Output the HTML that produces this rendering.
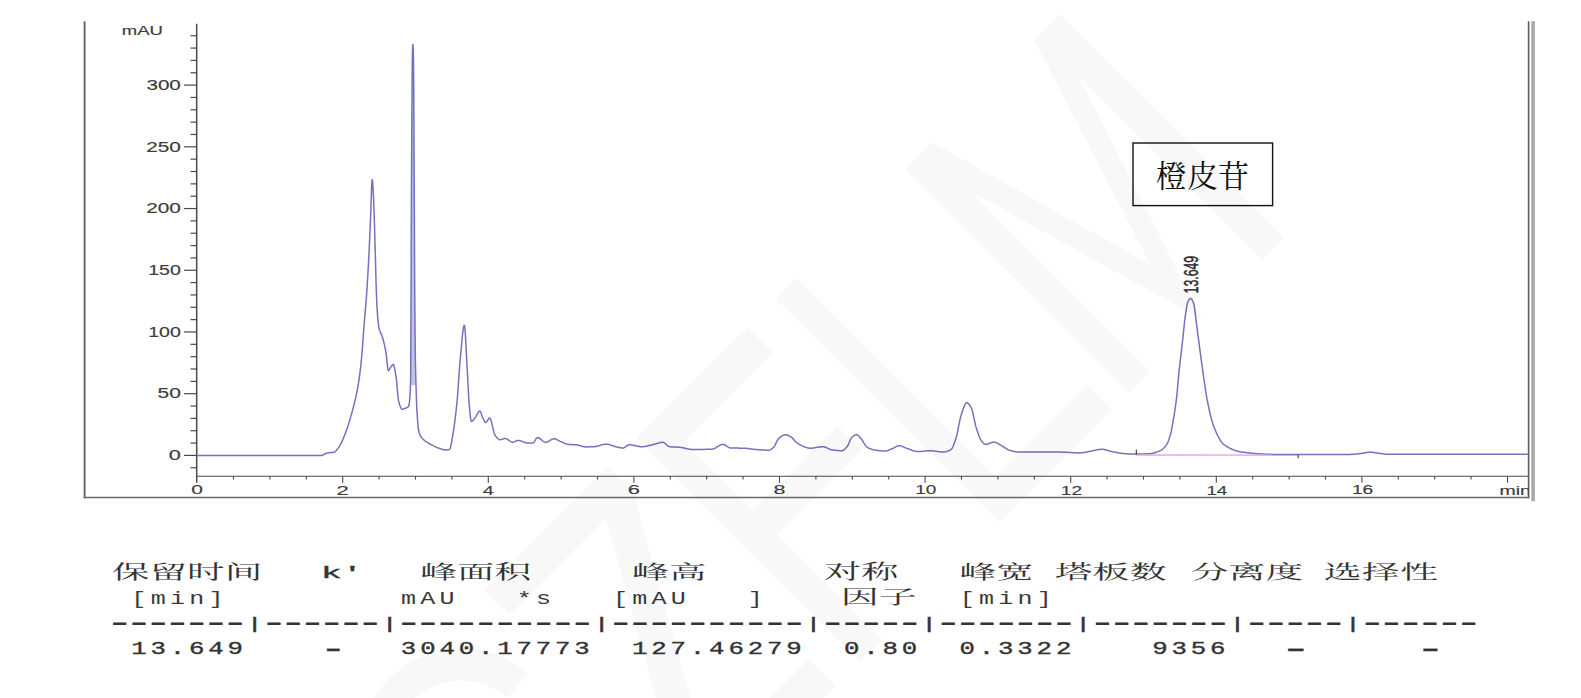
<!DOCTYPE html>
<html><head><meta charset="utf-8"><title>Chromatogram</title>
<style>html,body{margin:0;padding:0;background:#fff;} body{width:1581px;height:698px;overflow:hidden;} svg{display:block;} text{white-space:pre;}</style>
</head><body>
<svg width="1581" height="698" viewBox="0 0 1581 698">
<rect width="1581" height="698" fill="#fff"/>
<defs><clipPath id="plot"><rect x="85" y="0" width="1443.5" height="498"/></clipPath></defs>
<g><line x1="84.6" y1="21.3" x2="84.6" y2="498.2" stroke="#5e5e5e" stroke-width="1.8"/><line x1="83.7" y1="497.5" x2="1529.2" y2="497.5" stroke="#6a6a6a" stroke-width="1.5"/><line x1="1528.6" y1="21.3" x2="1528.6" y2="498.3" stroke="#5e5e5e" stroke-width="1.6"/><rect x="1531.3" y="21.2" width="3.6" height="480" fill="#a8a8a8"/><line x1="196.7" y1="23.8" x2="196.7" y2="482.8" stroke="#4a4a4a" stroke-width="1.5"/><line x1="196.2" y1="476.2" x2="1528.5" y2="476.2" stroke="#4a4a4a" stroke-width="1.1"/><line x1="190.5" y1="467.743" x2="196.8" y2="467.743" stroke="#4a4a4a" stroke-width="1.2"/><line x1="184" y1="455.4" x2="196.8" y2="455.4" stroke="#4a4a4a" stroke-width="1.2"/><line x1="190.5" y1="443.057" x2="196.8" y2="443.057" stroke="#4a4a4a" stroke-width="1.2"/><line x1="190.5" y1="430.714" x2="196.8" y2="430.714" stroke="#4a4a4a" stroke-width="1.2"/><line x1="190.5" y1="418.371" x2="196.8" y2="418.371" stroke="#4a4a4a" stroke-width="1.2"/><line x1="190.5" y1="406.028" x2="196.8" y2="406.028" stroke="#4a4a4a" stroke-width="1.2"/><line x1="184" y1="393.685" x2="196.8" y2="393.685" stroke="#4a4a4a" stroke-width="1.2"/><line x1="190.5" y1="381.342" x2="196.8" y2="381.342" stroke="#4a4a4a" stroke-width="1.2"/><line x1="190.5" y1="368.999" x2="196.8" y2="368.999" stroke="#4a4a4a" stroke-width="1.2"/><line x1="190.5" y1="356.656" x2="196.8" y2="356.656" stroke="#4a4a4a" stroke-width="1.2"/><line x1="190.5" y1="344.313" x2="196.8" y2="344.313" stroke="#4a4a4a" stroke-width="1.2"/><line x1="184" y1="331.97" x2="196.8" y2="331.97" stroke="#4a4a4a" stroke-width="1.2"/><line x1="190.5" y1="319.627" x2="196.8" y2="319.627" stroke="#4a4a4a" stroke-width="1.2"/><line x1="190.5" y1="307.284" x2="196.8" y2="307.284" stroke="#4a4a4a" stroke-width="1.2"/><line x1="190.5" y1="294.941" x2="196.8" y2="294.941" stroke="#4a4a4a" stroke-width="1.2"/><line x1="190.5" y1="282.598" x2="196.8" y2="282.598" stroke="#4a4a4a" stroke-width="1.2"/><line x1="184" y1="270.255" x2="196.8" y2="270.255" stroke="#4a4a4a" stroke-width="1.2"/><line x1="190.5" y1="257.912" x2="196.8" y2="257.912" stroke="#4a4a4a" stroke-width="1.2"/><line x1="190.5" y1="245.569" x2="196.8" y2="245.569" stroke="#4a4a4a" stroke-width="1.2"/><line x1="190.5" y1="233.226" x2="196.8" y2="233.226" stroke="#4a4a4a" stroke-width="1.2"/><line x1="190.5" y1="220.883" x2="196.8" y2="220.883" stroke="#4a4a4a" stroke-width="1.2"/><line x1="184" y1="208.54" x2="196.8" y2="208.54" stroke="#4a4a4a" stroke-width="1.2"/><line x1="190.5" y1="196.197" x2="196.8" y2="196.197" stroke="#4a4a4a" stroke-width="1.2"/><line x1="190.5" y1="183.854" x2="196.8" y2="183.854" stroke="#4a4a4a" stroke-width="1.2"/><line x1="190.5" y1="171.511" x2="196.8" y2="171.511" stroke="#4a4a4a" stroke-width="1.2"/><line x1="190.5" y1="159.168" x2="196.8" y2="159.168" stroke="#4a4a4a" stroke-width="1.2"/><line x1="184" y1="146.825" x2="196.8" y2="146.825" stroke="#4a4a4a" stroke-width="1.2"/><line x1="190.5" y1="134.482" x2="196.8" y2="134.482" stroke="#4a4a4a" stroke-width="1.2"/><line x1="190.5" y1="122.139" x2="196.8" y2="122.139" stroke="#4a4a4a" stroke-width="1.2"/><line x1="190.5" y1="109.796" x2="196.8" y2="109.796" stroke="#4a4a4a" stroke-width="1.2"/><line x1="190.5" y1="97.453" x2="196.8" y2="97.453" stroke="#4a4a4a" stroke-width="1.2"/><line x1="184" y1="85.11" x2="196.8" y2="85.11" stroke="#4a4a4a" stroke-width="1.2"/><line x1="190.5" y1="72.767" x2="196.8" y2="72.767" stroke="#4a4a4a" stroke-width="1.2"/><line x1="190.5" y1="60.424" x2="196.8" y2="60.424" stroke="#4a4a4a" stroke-width="1.2"/><line x1="190.5" y1="48.081" x2="196.8" y2="48.081" stroke="#4a4a4a" stroke-width="1.2"/><line x1="190.5" y1="35.738" x2="196.8" y2="35.738" stroke="#4a4a4a" stroke-width="1.2"/><line x1="233.5" y1="476.2" x2="233.5" y2="479.6" stroke="#4a4a4a" stroke-width="1.1"/><line x1="269.9" y1="476.2" x2="269.9" y2="479.6" stroke="#4a4a4a" stroke-width="1.1"/><line x1="306.3" y1="476.2" x2="306.3" y2="479.6" stroke="#4a4a4a" stroke-width="1.1"/><line x1="342.7" y1="476.2" x2="342.7" y2="482.8" stroke="#4a4a4a" stroke-width="1.1"/><line x1="379.1" y1="476.2" x2="379.1" y2="479.6" stroke="#4a4a4a" stroke-width="1.1"/><line x1="415.5" y1="476.2" x2="415.5" y2="479.6" stroke="#4a4a4a" stroke-width="1.1"/><line x1="451.9" y1="476.2" x2="451.9" y2="479.6" stroke="#4a4a4a" stroke-width="1.1"/><line x1="488.3" y1="476.2" x2="488.3" y2="482.8" stroke="#4a4a4a" stroke-width="1.1"/><line x1="524.7" y1="476.2" x2="524.7" y2="479.6" stroke="#4a4a4a" stroke-width="1.1"/><line x1="561.1" y1="476.2" x2="561.1" y2="479.6" stroke="#4a4a4a" stroke-width="1.1"/><line x1="597.5" y1="476.2" x2="597.5" y2="479.6" stroke="#4a4a4a" stroke-width="1.1"/><line x1="633.9" y1="476.2" x2="633.9" y2="482.8" stroke="#4a4a4a" stroke-width="1.1"/><line x1="670.3" y1="476.2" x2="670.3" y2="479.6" stroke="#4a4a4a" stroke-width="1.1"/><line x1="706.7" y1="476.2" x2="706.7" y2="479.6" stroke="#4a4a4a" stroke-width="1.1"/><line x1="743.1" y1="476.2" x2="743.1" y2="479.6" stroke="#4a4a4a" stroke-width="1.1"/><line x1="779.5" y1="476.2" x2="779.5" y2="482.8" stroke="#4a4a4a" stroke-width="1.1"/><line x1="815.9" y1="476.2" x2="815.9" y2="479.6" stroke="#4a4a4a" stroke-width="1.1"/><line x1="852.3" y1="476.2" x2="852.3" y2="479.6" stroke="#4a4a4a" stroke-width="1.1"/><line x1="888.7" y1="476.2" x2="888.7" y2="479.6" stroke="#4a4a4a" stroke-width="1.1"/><line x1="925.1" y1="476.2" x2="925.1" y2="482.8" stroke="#4a4a4a" stroke-width="1.1"/><line x1="961.5" y1="476.2" x2="961.5" y2="479.6" stroke="#4a4a4a" stroke-width="1.1"/><line x1="997.9" y1="476.2" x2="997.9" y2="479.6" stroke="#4a4a4a" stroke-width="1.1"/><line x1="1034.3" y1="476.2" x2="1034.3" y2="479.6" stroke="#4a4a4a" stroke-width="1.1"/><line x1="1070.7" y1="476.2" x2="1070.7" y2="482.8" stroke="#4a4a4a" stroke-width="1.1"/><line x1="1107.1" y1="476.2" x2="1107.1" y2="479.6" stroke="#4a4a4a" stroke-width="1.1"/><line x1="1143.5" y1="476.2" x2="1143.5" y2="479.6" stroke="#4a4a4a" stroke-width="1.1"/><line x1="1179.9" y1="476.2" x2="1179.9" y2="479.6" stroke="#4a4a4a" stroke-width="1.1"/><line x1="1216.3" y1="476.2" x2="1216.3" y2="482.8" stroke="#4a4a4a" stroke-width="1.1"/><line x1="1252.7" y1="476.2" x2="1252.7" y2="479.6" stroke="#4a4a4a" stroke-width="1.1"/><line x1="1289.1" y1="476.2" x2="1289.1" y2="479.6" stroke="#4a4a4a" stroke-width="1.1"/><line x1="1325.5" y1="476.2" x2="1325.5" y2="479.6" stroke="#4a4a4a" stroke-width="1.1"/><line x1="1361.9" y1="476.2" x2="1361.9" y2="482.8" stroke="#4a4a4a" stroke-width="1.1"/><line x1="1398.3" y1="476.2" x2="1398.3" y2="479.6" stroke="#4a4a4a" stroke-width="1.1"/><line x1="1434.7" y1="476.2" x2="1434.7" y2="479.6" stroke="#4a4a4a" stroke-width="1.1"/><line x1="1471.1" y1="476.2" x2="1471.1" y2="479.6" stroke="#4a4a4a" stroke-width="1.1"/><line x1="1507.5" y1="476.2" x2="1507.5" y2="482.8" stroke="#4a4a4a" stroke-width="1.1"/></g>
<polygon points="412.3,60 413.5,60 414.3,200 414.8,300 415.4,360 415.8,385 410.7,385 411.0,300 411.4,200" fill="#c4c2ec"/>
<path d="M197.00,455.50 197.50,455.50 198.00,455.50 198.50,455.50 199.00,455.50 199.50,455.50 200.00,455.50 200.50,455.50 201.00,455.50 201.50,455.50 202.00,455.50 202.50,455.50 203.00,455.50 203.50,455.50 204.00,455.50 204.50,455.50 205.00,455.50 205.50,455.50 206.00,455.50 206.50,455.50 207.00,455.50 207.50,455.50 208.00,455.50 208.50,455.50 209.00,455.50 209.50,455.50 210.00,455.50 210.50,455.50 211.00,455.50 211.50,455.50 212.00,455.50 212.50,455.50 213.00,455.50 213.50,455.50 214.00,455.50 214.50,455.50 215.00,455.50 215.50,455.50 216.00,455.50 216.50,455.50 217.00,455.50 217.50,455.50 218.00,455.50 218.50,455.50 219.00,455.50 219.50,455.50 220.00,455.50 220.50,455.50 221.00,455.50 221.50,455.50 222.00,455.50 222.50,455.50 223.00,455.50 223.50,455.50 224.00,455.50 224.50,455.50 225.00,455.50 225.50,455.50 226.00,455.50 226.50,455.50 227.00,455.50 227.50,455.50 228.00,455.50 228.50,455.50 229.00,455.50 229.50,455.50 230.00,455.50 230.50,455.50 231.00,455.50 231.50,455.50 232.00,455.50 232.50,455.50 233.00,455.50 233.50,455.50 234.00,455.50 234.50,455.50 235.00,455.50 235.50,455.50 236.00,455.50 236.50,455.50 237.00,455.50 237.50,455.50 238.00,455.50 238.50,455.50 239.00,455.50 239.50,455.50 240.00,455.50 240.50,455.50 241.00,455.50 241.50,455.50 242.00,455.50 242.50,455.50 243.00,455.50 243.50,455.50 244.00,455.50 244.50,455.50 245.00,455.50 245.50,455.50 246.00,455.50 246.50,455.50 247.00,455.50 247.50,455.50 248.00,455.50 248.50,455.50 249.00,455.50 249.50,455.50 250.00,455.50 250.50,455.50 251.00,455.50 251.50,455.50 252.00,455.50 252.50,455.50 253.00,455.50 253.50,455.50 254.00,455.50 254.50,455.50 255.00,455.50 255.50,455.50 256.00,455.50 256.50,455.50 257.00,455.50 257.50,455.50 258.00,455.50 258.50,455.50 259.00,455.50 259.50,455.50 260.00,455.50 260.50,455.50 261.00,455.50 261.50,455.50 262.00,455.50 262.50,455.50 263.00,455.50 263.50,455.50 264.00,455.50 264.50,455.50 265.00,455.50 265.50,455.50 266.00,455.50 266.50,455.50 267.00,455.50 267.50,455.50 268.00,455.50 268.50,455.50 269.00,455.50 269.50,455.50 270.00,455.50 270.50,455.50 271.00,455.50 271.50,455.50 272.00,455.50 272.50,455.50 273.00,455.50 273.50,455.50 274.00,455.50 274.50,455.50 275.00,455.50 275.50,455.50 276.00,455.50 276.50,455.50 277.00,455.50 277.50,455.50 278.00,455.50 278.50,455.50 279.00,455.50 279.50,455.50 280.00,455.50 280.50,455.50 281.00,455.50 281.50,455.50 282.00,455.50 282.50,455.50 283.00,455.50 283.50,455.50 284.00,455.50 284.50,455.50 285.00,455.50 285.50,455.50 286.00,455.50 286.50,455.50 287.00,455.50 287.50,455.50 288.00,455.50 288.50,455.50 289.00,455.50 289.50,455.50 290.00,455.50 290.50,455.50 291.00,455.50 291.50,455.50 292.00,455.50 292.50,455.50 293.00,455.50 293.50,455.50 294.00,455.50 294.50,455.50 295.00,455.50 295.50,455.50 296.00,455.50 296.50,455.50 297.00,455.50 297.50,455.50 298.00,455.50 298.50,455.50 299.00,455.50 299.50,455.50 300.00,455.50 300.50,455.50 301.00,455.50 301.50,455.50 302.00,455.50 302.50,455.50 303.00,455.50 303.50,455.50 304.00,455.50 304.50,455.50 305.00,455.50 305.50,455.50 306.00,455.50 306.50,455.50 307.00,455.50 307.50,455.50 308.00,455.50 308.50,455.50 309.00,455.50 309.50,455.50 310.00,455.50 310.50,455.50 311.00,455.50 311.50,455.50 312.00,455.50 312.50,455.50 313.00,455.50 313.50,455.50 314.00,455.50 314.50,455.50 315.00,455.50 315.50,455.50 316.00,455.50 316.50,455.50 317.00,455.50 317.50,455.50 318.00,455.50 318.50,455.50 319.00,455.50 319.50,455.50 320.00,455.50 320.50,455.50 321.00,455.50 321.50,455.50 322.00,455.43 322.50,455.24 323.00,454.97 323.50,454.65 324.00,454.33 324.50,454.03 325.00,453.80 325.50,453.62 326.00,453.44 326.50,453.28 327.00,453.13 327.50,453.00 328.00,452.90 328.50,452.82 329.00,452.76 329.50,452.70 330.00,452.66 330.50,452.62 331.00,452.58 331.50,452.54 332.00,452.50 332.50,452.45 333.00,452.38 333.50,452.30 334.00,452.20 334.50,452.01 335.00,451.69 335.50,451.26 336.00,450.75 336.50,450.19 337.00,449.59 337.50,449.00 338.00,448.38 338.50,447.68 339.00,446.92 339.50,446.10 340.00,445.23 340.50,444.32 341.00,443.37 341.50,442.40 342.00,441.39 342.50,440.32 343.00,439.19 343.50,438.02 344.00,436.80 344.50,435.54 345.00,434.24 345.50,432.91 346.00,431.54 346.50,430.15 347.00,428.74 347.50,427.30 347.98,425.89 348.46,424.42 348.93,422.90 349.41,421.33 349.89,419.72 350.37,418.08 350.84,416.41 351.32,414.71 351.80,413.00 352.26,411.33 352.73,409.65 353.19,407.94 353.65,406.19 354.11,404.40 354.57,402.54 355.04,400.61 355.50,398.60 355.90,396.80 356.30,394.93 356.70,393.00 357.10,390.98 357.50,388.86 357.90,386.64 358.30,384.30 358.59,382.54 358.87,380.69 359.16,378.74 359.44,376.71 359.73,374.57 360.01,372.34 360.30,370.00 360.50,368.29 360.70,366.49 360.90,364.63 361.10,362.68 361.30,360.67 361.50,358.60 361.70,356.46 361.90,354.26 362.10,352.00 362.26,350.15 362.41,348.21 362.57,346.18 362.73,344.08 362.89,341.93 363.04,339.73 363.20,337.51 363.36,335.28 363.51,333.04 363.67,330.83 363.83,328.64 363.99,326.50 364.14,324.41 364.30,322.40 364.47,320.28 364.65,318.24 364.82,316.26 364.99,314.32 365.16,312.39 365.34,310.46 365.51,308.50 365.68,306.50 365.85,304.43 366.03,302.27 366.20,300.00 366.33,298.24 366.46,296.43 366.59,294.59 366.72,292.72 366.85,290.80 366.98,288.85 367.11,286.87 367.24,284.84 367.36,282.78 367.49,280.69 367.62,278.55 367.75,276.38 367.88,274.18 368.01,271.94 368.14,269.66 368.27,267.35 368.40,265.00 368.50,263.23 368.59,261.42 368.69,259.58 368.78,257.69 368.88,255.77 368.97,253.81 369.07,251.83 369.16,249.82 369.26,247.78 369.35,245.72 369.45,243.63 369.55,241.53 369.64,239.42 369.74,237.28 369.83,235.14 369.93,232.99 370.02,230.83 370.12,228.66 370.21,226.49 370.31,224.33 370.40,222.16 370.50,220.00 370.58,217.97 370.67,215.75 370.75,213.38 370.84,210.87 370.93,208.27 371.01,205.60 371.09,202.91 371.18,200.21 371.26,197.55 371.35,194.95 371.44,192.44 371.52,190.07 371.61,187.85 371.69,185.83 371.77,184.03 371.86,182.48 371.94,181.23 372.03,180.29 372.12,179.70 372.20,179.50 372.37,179.99 372.54,181.34 372.71,183.37 372.89,185.93 373.06,188.83 373.23,191.91 373.40,195.00 373.47,196.23 373.53,197.58 373.60,199.02 373.67,200.56 373.73,202.19 373.80,203.91 373.87,205.70 373.93,207.57 374.00,209.51 374.07,211.52 374.13,213.58 374.20,215.70 374.27,217.86 374.33,220.06 374.40,222.30 374.47,224.57 374.53,226.87 374.60,229.18 374.67,231.51 374.73,233.85 374.80,236.19 374.87,238.53 374.93,240.86 375.00,243.18 375.07,245.48 375.13,247.75 375.20,250.00 375.25,251.88 375.31,253.83 375.37,255.84 375.42,257.91 375.48,260.01 375.53,262.15 375.58,264.31 375.64,266.49 375.69,268.66 375.75,270.84 375.81,272.99 375.86,275.12 375.92,277.21 375.97,279.25 376.02,281.24 376.08,283.16 376.13,285.01 376.19,286.77 376.25,288.44 376.30,290.00 376.39,292.44 376.48,294.81 376.57,297.11 376.66,299.32 376.75,301.43 376.84,303.43 376.93,305.30 377.02,307.02 377.11,308.60 377.20,310.00 377.41,313.02 377.62,315.86 377.84,318.49 378.05,320.88 378.26,323.00 378.47,324.83 378.69,326.34 378.90,327.50 379.40,329.51 379.90,331.05 380.40,332.27 380.90,333.32 381.40,334.36 381.90,335.53 382.40,337.00 382.89,338.67 383.37,340.46 383.86,342.38 384.34,344.44 384.83,346.66 385.31,349.04 385.80,351.60 386.09,353.49 386.38,355.89 386.67,358.60 386.96,361.43 387.24,364.18 387.53,366.65 387.82,368.66 388.11,370.01 388.40,370.50 388.84,370.27 389.28,369.70 389.72,368.95 390.16,368.16 390.60,367.50 391.05,366.89 391.50,366.23 391.95,365.59 392.40,365.03 392.85,364.65 393.30,364.50 393.77,365.05 394.23,366.56 394.70,368.79 395.17,371.49 395.63,374.44 396.10,377.40 396.32,378.94 396.53,380.82 396.75,382.97 396.97,385.31 397.18,387.76 397.40,390.24 397.62,392.68 397.83,395.00 398.05,397.12 398.27,398.96 398.48,400.45 398.70,401.50 399.19,403.26 399.67,404.88 400.16,406.31 400.64,407.50 401.13,408.42 401.61,409.00 402.10,409.20 402.59,409.17 403.07,409.08 403.56,408.95 404.04,408.79 404.53,408.60 405.01,408.40 405.50,408.20 405.99,408.01 406.47,407.83 406.96,407.61 407.44,407.34 407.93,406.97 408.41,406.46 408.90,405.80 409.15,404.75 409.40,402.58 409.65,399.66 409.90,396.30 409.99,395.10 410.07,393.87 410.16,392.49 410.25,390.87 410.34,388.92 410.43,386.52 410.51,383.58 410.60,380.00 410.61,379.48 410.62,378.82 410.63,378.03 410.64,377.10 410.65,376.06 410.66,374.89 410.67,373.61 410.68,372.22 410.69,370.73 410.70,369.14 410.71,367.45 410.72,365.68 410.73,363.82 410.74,361.88 410.75,359.87 410.76,357.78 410.77,355.64 410.78,353.43 410.79,351.17 410.80,348.86 410.81,346.51 410.82,344.12 410.83,341.69 410.84,339.23 410.85,336.75 410.86,334.25 410.87,331.74 410.88,329.21 410.89,326.69 410.90,324.16 410.91,321.63 410.92,319.12 410.93,316.63 410.94,314.15 410.95,311.70 410.96,309.28 410.97,306.89 410.98,304.55 410.99,302.25 411.00,300.00 411.01,298.21 411.02,296.38 411.02,294.53 411.03,292.64 411.04,290.73 411.05,288.79 411.06,286.83 411.06,284.85 411.07,282.84 411.08,280.82 411.09,278.77 411.10,276.71 411.10,274.64 411.11,272.54 411.12,270.44 411.13,268.33 411.14,266.20 411.14,264.07 411.15,261.93 411.16,259.78 411.17,257.63 411.18,255.48 411.18,253.33 411.19,251.18 411.20,249.02 411.21,246.88 411.22,244.73 411.22,242.59 411.23,240.46 411.24,238.34 411.25,236.23 411.26,234.13 411.26,232.05 411.27,229.97 411.28,227.92 411.29,225.88 411.30,223.86 411.30,221.86 411.31,219.89 411.32,217.93 411.33,216.01 411.34,214.10 411.34,212.23 411.35,210.38 411.36,208.57 411.37,206.78 411.38,205.03 411.38,203.32 411.39,201.64 411.40,200.00 411.41,197.58 411.42,195.17 411.44,192.78 411.45,190.42 411.46,188.06 411.47,185.73 411.48,183.42 411.50,181.12 411.51,178.84 411.52,176.58 411.53,174.33 411.54,172.11 411.56,169.90 411.57,167.71 411.58,165.53 411.59,163.38 411.60,161.24 411.62,159.12 411.63,157.01 411.64,154.92 411.65,152.85 411.66,150.80 411.68,148.77 411.69,146.75 411.70,144.74 411.71,142.76 411.72,140.79 411.74,138.84 411.75,136.90 411.76,134.98 411.77,133.08 411.78,131.19 411.80,129.32 411.81,127.47 411.82,125.63 411.83,123.81 411.84,122.01 411.86,120.22 411.87,118.45 411.88,116.69 411.89,114.95 411.90,113.23 411.92,111.52 411.93,109.83 411.94,108.15 411.95,106.49 411.96,104.84 411.98,103.21 411.99,101.60 412.00,100.00 412.02,97.56 412.04,95.08 412.05,92.56 412.07,90.02 412.09,87.47 412.11,84.92 412.13,82.40 412.15,79.90 412.16,77.44 412.18,75.04 412.20,72.70 412.22,70.44 412.24,68.28 412.25,66.22 412.27,64.27 412.29,62.46 412.31,60.79 412.33,59.27 412.35,57.92 412.36,56.75 412.38,55.77 412.40,55.00 412.50,51.56 412.60,48.63 412.70,46.37 412.80,44.92 412.90,44.40 413.00,44.92 413.10,46.37 413.20,48.63 413.30,51.56 413.40,55.00 413.42,55.76 413.44,56.72 413.45,57.86 413.47,59.16 413.49,60.63 413.51,62.24 413.53,64.00 413.55,65.88 413.56,67.88 413.58,70.00 413.60,72.20 413.62,74.50 413.64,76.87 413.65,79.31 413.67,81.81 413.69,84.35 413.71,86.93 413.73,89.54 413.75,92.15 413.76,94.78 413.78,97.40 413.80,100.00 413.81,101.45 413.82,102.94 413.83,104.48 413.84,106.05 413.85,107.67 413.86,109.33 413.87,111.02 413.88,112.76 413.89,114.52 413.90,116.32 413.91,118.15 413.92,120.02 413.93,121.91 413.94,123.83 413.95,125.78 413.96,127.75 413.97,129.74 413.98,131.76 413.99,133.80 414.00,135.86 414.01,137.94 414.02,140.03 414.03,142.15 414.04,144.27 414.05,146.41 414.06,148.56 414.07,150.72 414.08,152.88 414.09,155.06 414.10,157.24 414.11,159.43 414.12,161.62 414.13,163.81 414.14,166.00 414.15,168.19 414.16,170.38 414.17,172.56 414.18,174.74 414.19,176.92 414.20,179.08 414.21,181.24 414.22,183.38 414.23,185.52 414.24,187.64 414.25,189.74 414.26,191.83 414.27,193.90 414.28,195.96 414.29,197.99 414.30,200.00 414.31,202.01 414.32,204.05 414.33,206.11 414.34,208.19 414.35,210.29 414.36,212.41 414.37,214.55 414.38,216.70 414.39,218.87 414.40,221.04 414.41,223.23 414.42,225.43 414.43,227.63 414.44,229.84 414.45,232.06 414.46,234.27 414.47,236.49 414.48,238.71 414.49,240.92 414.50,243.13 414.51,245.34 414.52,247.54 414.53,249.73 414.54,251.91 414.55,254.08 414.56,256.24 414.57,258.38 414.58,260.51 414.59,262.61 414.60,264.70 414.61,266.77 414.62,268.81 414.63,270.84 414.64,272.83 414.65,274.80 414.66,276.74 414.67,278.65 414.68,280.53 414.69,282.37 414.70,284.18 414.71,285.95 414.72,287.69 414.73,289.38 414.74,291.03 414.75,292.64 414.76,294.21 414.77,295.73 414.78,297.20 414.79,298.63 414.80,300.00 414.82,302.67 414.84,305.31 414.86,307.91 414.88,310.47 414.90,312.98 414.92,315.46 414.94,317.89 414.96,320.27 414.98,322.62 415.00,324.91 415.02,327.17 415.04,329.37 415.06,331.53 415.08,333.63 415.10,335.69 415.12,337.70 415.14,339.65 415.16,341.56 415.18,343.41 415.20,345.20 415.22,346.94 415.24,348.63 415.26,350.26 415.28,351.83 415.30,353.34 415.32,354.79 415.34,356.19 415.36,357.52 415.38,358.79 415.40,360.00 415.45,362.83 415.50,365.47 415.55,367.92 415.60,370.21 415.65,372.36 415.70,374.38 415.75,376.30 415.80,378.13 415.85,379.90 415.90,381.62 415.95,383.31 416.00,385.00 416.07,387.52 416.15,390.02 416.23,392.47 416.30,394.85 416.38,397.17 416.45,399.39 416.52,401.51 416.60,403.51 416.67,405.37 416.75,407.08 416.82,408.63 416.90,410.00 417.09,413.16 417.28,416.18 417.47,419.02 417.66,421.66 417.85,424.06 418.04,426.21 418.23,428.06 418.42,429.60 418.61,430.79 418.80,431.60 419.29,433.07 419.78,434.32 420.27,435.38 420.76,436.28 421.25,437.04 421.74,437.69 422.23,438.25 422.72,438.76 423.21,439.23 423.70,439.70 424.19,440.16 424.69,440.59 425.18,440.99 425.67,441.36 426.16,441.71 426.66,442.04 427.15,442.35 427.64,442.65 428.14,442.93 428.63,443.21 429.12,443.48 429.61,443.75 430.11,444.02 430.60,444.30 431.09,444.58 431.59,444.86 432.08,445.13 432.57,445.41 433.06,445.68 433.56,445.94 434.05,446.20 434.54,446.44 435.04,446.68 435.53,446.91 436.02,447.13 436.51,447.33 437.01,447.52 437.50,447.70 437.98,447.86 438.46,448.03 438.94,448.20 439.42,448.37 439.89,448.53 440.37,448.70 440.85,448.86 441.33,449.02 441.81,449.16 442.29,449.31 442.77,449.44 443.25,449.56 443.73,449.67 444.21,449.76 444.68,449.85 445.16,449.91 445.64,449.96 446.12,449.99 446.60,450.00 447.08,449.99 447.57,449.94 448.05,449.87 448.53,449.77 449.02,449.65 449.50,449.50 449.98,448.85 450.47,447.36 450.95,445.25 451.43,442.74 451.92,440.05 452.40,437.40 452.66,435.96 452.93,434.44 453.19,432.84 453.46,431.17 453.72,429.42 453.99,427.59 454.25,425.70 454.52,423.73 454.78,421.69 455.05,419.58 455.31,417.40 455.58,415.16 455.84,412.85 456.11,410.48 456.37,408.05 456.64,405.55 456.90,403.00 457.06,401.38 457.22,399.63 457.38,397.77 457.54,395.81 457.70,393.76 457.85,391.63 458.01,389.44 458.17,387.19 458.33,384.90 458.49,382.59 458.65,380.26 458.81,377.93 458.97,375.61 459.13,373.31 459.29,371.05 459.45,368.83 459.60,366.67 459.76,364.58 459.92,362.58 460.08,360.67 460.24,358.88 460.40,357.20 460.64,354.67 460.89,352.04 461.13,349.36 461.38,346.65 461.62,343.94 461.86,341.29 462.11,338.72 462.35,336.26 462.59,333.96 462.84,331.85 463.08,329.97 463.32,328.35 463.57,327.02 463.81,326.03 464.06,325.41 464.30,325.20 464.44,325.38 464.58,325.92 464.71,326.77 464.85,327.93 464.99,329.36 465.13,331.04 465.27,332.94 465.40,335.03 465.54,337.30 465.68,339.72 465.82,342.25 465.96,344.89 466.10,347.59 466.23,350.34 466.37,353.10 466.51,355.87 466.65,358.60 466.79,361.27 466.92,363.86 467.06,366.35 467.20,368.70 467.31,370.61 467.42,372.62 467.54,374.73 467.65,376.91 467.76,379.15 467.87,381.41 467.98,383.69 468.09,385.97 468.21,388.22 468.32,390.43 468.43,392.57 468.54,394.63 468.65,396.59 468.76,398.42 468.88,400.12 468.99,401.65 469.10,403.00 469.36,405.90 469.61,408.79 469.87,411.59 470.12,414.21 470.38,416.56 470.63,418.54 470.89,420.07 471.14,421.05 471.40,421.40 471.85,421.31 472.30,421.06 472.75,420.68 473.20,420.21 473.65,419.67 474.10,419.11 474.55,418.54 475.00,418.00 475.48,417.36 475.96,416.57 476.44,415.69 476.92,414.75 477.40,413.82 477.88,412.94 478.36,412.17 478.84,411.55 479.32,411.15 479.80,411.00 480.25,411.32 480.70,412.16 481.15,413.33 481.60,414.65 482.05,415.94 482.50,417.00 482.94,417.95 483.39,418.98 483.83,420.02 484.27,420.98 484.71,421.77 485.16,422.30 485.60,422.50 486.06,422.35 486.51,421.93 486.97,421.33 487.42,420.62 487.88,419.88 488.33,419.17 488.79,418.57 489.24,418.15 489.70,418.00 490.19,418.35 490.68,419.31 491.17,420.76 491.66,422.58 492.15,424.64 492.65,426.83 493.14,429.01 493.63,431.07 494.12,432.89 494.61,434.34 495.10,435.30 495.60,435.98 496.10,436.63 496.60,437.26 497.10,437.84 497.60,438.36 498.10,438.81 498.60,439.18 499.10,439.46 499.60,439.64 500.10,439.70 500.56,439.67 501.03,439.60 501.49,439.48 501.95,439.34 502.42,439.18 502.88,439.02 503.35,438.86 503.81,438.72 504.27,438.60 504.74,438.53 505.20,438.50 505.68,438.54 506.15,438.66 506.62,438.85 507.10,439.09 507.57,439.38 508.05,439.70 508.52,440.05 509.00,440.40 509.47,440.75 509.95,441.10 510.42,441.42 510.90,441.71 511.37,441.95 511.85,442.14 512.32,442.26 512.80,442.30 513.30,442.25 513.80,442.10 514.30,441.89 514.80,441.63 515.30,441.35 515.80,441.07 516.30,440.81 516.80,440.60 517.30,440.45 517.80,440.40 518.29,440.42 518.77,440.47 519.26,440.55 519.74,440.66 520.23,440.79 520.71,440.94 521.20,441.10 521.69,441.28 522.17,441.46 522.66,441.65 523.14,441.85 523.63,442.04 524.11,442.22 524.60,442.40 525.09,442.56 525.57,442.71 526.06,442.84 526.54,442.95 527.03,443.03 527.51,443.08 528.00,443.10 528.50,443.10 529.00,443.09 529.50,443.08 530.00,443.07 530.50,443.05 531.00,443.03 531.50,443.00 532.00,442.97 532.50,442.94 533.00,442.90 533.49,442.69 533.98,442.18 534.47,441.47 534.96,440.64 535.44,439.77 535.93,438.95 536.42,438.26 536.91,437.78 537.40,437.60 537.89,437.65 538.38,437.78 538.86,437.99 539.35,438.26 539.84,438.58 540.33,438.94 540.82,439.33 541.31,439.74 541.79,440.16 542.28,440.57 542.77,440.96 543.26,441.32 543.75,441.64 544.24,441.91 544.72,442.12 545.21,442.25 545.70,442.30 546.18,442.27 546.66,442.17 547.15,442.01 547.63,441.81 548.11,441.57 548.59,441.30 549.08,441.01 549.56,440.70 550.04,440.40 550.52,440.09 551.01,439.80 551.49,439.53 551.97,439.29 552.45,439.09 552.94,438.93 553.42,438.83 553.90,438.80 554.39,438.83 554.89,438.91 555.38,439.03 555.87,439.20 556.36,439.40 556.86,439.62 557.35,439.87 557.84,440.12 558.34,440.39 558.83,440.66 559.32,440.92 559.81,441.16 560.31,441.39 560.80,441.60 561.27,441.79 561.75,441.99 562.22,442.20 562.70,442.42 563.17,442.64 563.65,442.85 564.12,443.07 564.60,443.28 565.07,443.48 565.55,443.67 566.02,443.84 566.50,444.00 566.98,444.14 567.45,444.25 567.92,444.34 568.40,444.40 568.88,444.44 569.35,444.48 569.82,444.51 570.30,444.53 570.77,444.55 571.25,444.57 571.73,444.59 572.20,444.61 572.67,444.63 573.15,444.64 573.62,444.66 574.10,444.68 574.58,444.71 575.05,444.73 575.52,444.76 576.00,444.80 576.48,444.85 576.96,444.92 577.44,445.00 577.92,445.10 578.40,445.21 578.89,445.34 579.37,445.47 579.85,445.60 580.33,445.74 580.81,445.88 581.29,446.02 581.77,446.16 582.25,446.29 582.73,446.42 583.21,446.53 583.70,446.64 584.18,446.72 584.66,446.80 585.14,446.85 585.62,446.89 586.10,446.90 586.58,446.90 587.05,446.90 587.52,446.89 588.00,446.88 588.48,446.88 588.95,446.87 589.43,446.85 589.90,446.84 590.38,446.83 590.85,446.81 591.33,446.80 591.80,446.78 592.28,446.76 592.75,446.74 593.23,446.72 593.70,446.70 594.19,446.67 594.68,446.62 595.17,446.56 595.65,446.48 596.14,446.39 596.63,446.29 597.12,446.17 597.61,446.05 598.10,445.93 598.58,445.79 599.07,445.66 599.56,445.52 600.05,445.38 600.54,445.24 601.03,445.11 601.52,444.97 602.00,444.85 602.49,444.73 602.98,444.62 603.47,444.52 603.96,444.43 604.45,444.35 604.93,444.29 605.42,444.24 605.91,444.21 606.40,444.20 606.88,444.21 607.36,444.25 607.84,444.31 608.32,444.39 608.80,444.50 609.29,444.61 609.77,444.74 610.25,444.89 610.73,445.04 611.21,445.20 611.69,445.37 612.17,445.54 612.65,445.72 613.13,445.89 613.61,446.06 614.10,446.22 614.58,446.38 615.06,446.53 615.54,446.67 616.02,446.79 616.50,446.90 616.98,447.00 617.47,447.11 617.95,447.23 618.44,447.34 618.92,447.45 619.41,447.56 619.89,447.66 620.38,447.76 620.86,447.84 621.35,447.90 621.83,447.96 622.32,447.99 622.80,448.00 623.29,447.95 623.78,447.80 624.28,447.57 624.77,447.28 625.26,446.94 625.75,446.58 626.25,446.22 626.74,445.86 627.23,445.52 627.72,445.23 628.22,445.00 628.71,444.85 629.20,444.80 629.68,444.81 630.17,444.83 630.65,444.87 631.14,444.92 631.62,444.98 632.11,445.06 632.59,445.14 633.08,445.23 633.56,445.33 634.05,445.43 634.53,445.53 635.02,445.64 635.50,445.75 635.98,445.86 636.47,445.97 636.95,446.07 637.44,446.17 637.92,446.27 638.41,446.36 638.89,446.44 639.38,446.52 639.86,446.58 640.35,446.63 640.83,446.67 641.32,446.69 641.80,446.70 642.29,446.69 642.78,446.67 643.27,446.64 643.75,446.60 644.24,446.54 644.73,446.47 645.22,446.40 645.71,446.31 646.20,446.22 646.68,446.12 647.17,446.02 647.66,445.91 648.15,445.79 648.64,445.67 649.13,445.55 649.62,445.42 650.10,445.29 650.59,445.17 651.08,445.04 651.57,444.91 652.06,444.78 652.55,444.66 653.03,444.54 653.52,444.42 654.01,444.31 654.50,444.20 654.98,444.09 655.46,443.97 655.95,443.83 656.43,443.69 656.91,443.55 657.39,443.40 657.88,443.25 658.36,443.10 658.84,442.96 659.32,442.83 659.81,442.70 660.29,442.59 660.77,442.49 661.25,442.41 661.74,442.35 662.22,442.31 662.70,442.30 663.19,442.36 663.69,442.53 664.18,442.79 664.67,443.13 665.16,443.52 665.66,443.95 666.15,444.40 666.64,444.86 667.14,445.30 667.63,445.71 668.12,446.08 668.61,446.37 669.11,446.59 669.60,446.70 670.09,446.75 670.57,446.80 671.06,446.84 671.54,446.88 672.03,446.91 672.51,446.94 673.00,446.96 673.49,446.99 673.97,447.01 674.46,447.03 674.94,447.04 675.43,447.06 675.91,447.08 676.40,447.10 676.89,447.12 677.37,447.14 677.86,447.17 678.34,447.19 678.83,447.23 679.31,447.26 679.80,447.30 680.29,447.35 680.78,447.41 681.28,447.48 681.77,447.56 682.26,447.65 682.75,447.75 683.25,447.85 683.74,447.96 684.23,448.07 684.72,448.19 685.22,448.30 685.71,448.42 686.20,448.54 686.69,448.65 687.18,448.77 687.68,448.87 688.17,448.98 688.66,449.08 689.15,449.17 689.65,449.25 690.14,449.32 690.63,449.38 691.12,449.43 691.62,449.47 692.11,449.49 692.60,449.50 693.10,449.50 693.60,449.50 694.10,449.50 694.60,449.50 695.10,449.50 695.60,449.49 696.10,449.49 696.60,449.49 697.10,449.48 697.60,449.48 698.10,449.48 698.60,449.47 699.10,449.47 699.60,449.46 700.10,449.46 700.60,449.45 701.10,449.44 701.60,449.44 702.10,449.43 702.60,449.42 703.10,449.41 703.60,449.40 704.10,449.39 704.60,449.38 705.10,449.37 705.60,449.36 706.10,449.35 706.60,449.34 707.10,449.33 707.60,449.32 708.10,449.30 708.60,449.29 709.10,449.28 709.60,449.26 710.10,449.25 710.60,449.23 711.10,449.22 711.60,449.20 712.10,449.16 712.59,449.07 713.09,448.94 713.58,448.77 714.08,448.57 714.57,448.34 715.07,448.08 715.57,447.81 716.06,447.52 716.56,447.21 717.05,446.91 717.55,446.60 718.04,446.29 718.54,445.99 719.03,445.71 719.53,445.44 720.03,445.19 720.52,444.97 721.02,444.78 721.51,444.62 722.01,444.50 722.50,444.43 723.00,444.40 723.48,444.44 723.95,444.55 724.42,444.73 724.90,444.95 725.38,445.22 725.85,445.52 726.33,445.84 726.80,446.17 727.27,446.50 727.75,446.82 728.23,447.13 728.70,447.40 729.18,447.64 729.65,447.82 730.12,447.95 730.60,448.00 731.09,448.02 731.58,448.03 732.07,448.04 732.55,448.05 733.04,448.06 733.53,448.07 734.02,448.08 734.51,448.08 735.00,448.09 735.48,448.10 735.97,448.10 736.46,448.10 736.95,448.11 737.44,448.11 737.93,448.12 738.42,448.12 738.90,448.13 739.39,448.13 739.88,448.14 740.37,448.14 740.86,448.15 741.35,448.16 741.83,448.17 742.32,448.18 742.81,448.19 743.30,448.20 743.78,448.22 744.27,448.24 744.75,448.27 745.24,448.30 745.72,448.34 746.21,448.39 746.69,448.43 747.18,448.48 747.66,448.54 748.15,448.60 748.63,448.66 749.12,448.72 749.60,448.78 750.08,448.84 750.57,448.91 751.05,448.97 751.54,449.03 752.02,449.10 752.51,449.16 752.99,449.21 753.48,449.27 753.96,449.32 754.45,449.37 754.93,449.42 755.42,449.46 755.90,449.50 756.39,449.54 756.88,449.57 757.37,449.61 757.85,449.65 758.34,449.68 758.83,449.72 759.32,449.76 759.81,449.79 760.30,449.83 760.78,449.86 761.27,449.90 761.76,449.93 762.25,449.96 762.74,450.00 763.23,450.02 763.72,450.05 764.20,450.08 764.69,450.10 765.18,450.12 765.67,450.14 766.16,450.16 766.65,450.17 767.13,450.18 767.62,450.19 768.11,450.20 768.60,450.20 769.10,450.16 769.60,450.04 770.10,449.85 770.60,449.60 771.10,449.29 771.60,448.94 772.10,448.56 772.60,448.16 773.10,447.73 773.60,447.30 774.06,446.80 774.53,446.11 774.99,445.29 775.45,444.37 775.92,443.39 776.38,442.39 776.85,441.42 777.31,440.50 777.77,439.68 778.24,439.00 778.70,438.50 779.19,438.08 779.69,437.67 780.18,437.27 780.67,436.88 781.16,436.52 781.66,436.18 782.15,435.86 782.64,435.57 783.14,435.32 783.63,435.11 784.12,434.94 784.61,434.81 785.11,434.73 785.60,434.70 786.08,434.73 786.55,434.80 787.02,434.93 787.50,435.09 787.98,435.29 788.45,435.51 788.92,435.76 789.40,436.03 789.88,436.32 790.35,436.61 790.82,436.91 791.30,437.20 791.76,437.53 792.23,437.92 792.69,438.38 793.15,438.87 793.62,439.40 794.08,439.93 794.55,440.47 795.01,440.99 795.47,441.48 795.94,441.92 796.40,442.30 796.88,442.65 797.35,443.00 797.82,443.34 798.30,443.67 798.77,443.99 799.25,444.30 799.73,444.60 800.20,444.89 800.67,445.17 801.15,445.44 801.62,445.69 802.10,445.92 802.58,446.14 803.05,446.35 803.52,446.53 804.00,446.70 804.48,446.86 804.97,447.03 805.45,447.19 805.94,447.35 806.42,447.50 806.91,447.64 807.39,447.78 807.88,447.90 808.36,448.00 808.85,448.08 809.33,448.15 809.82,448.19 810.30,448.20 810.79,448.19 811.28,448.17 811.77,448.14 812.25,448.10 812.74,448.05 813.23,448.00 813.72,447.93 814.21,447.86 814.70,447.79 815.18,447.71 815.67,447.62 816.16,447.54 816.65,447.45 817.14,447.36 817.63,447.28 818.12,447.19 818.60,447.11 819.09,447.04 819.58,446.97 820.07,446.90 820.56,446.85 821.05,446.80 821.53,446.76 822.02,446.73 822.51,446.71 823.00,446.70 823.49,446.72 823.98,446.79 824.47,446.90 824.96,447.04 825.44,447.21 825.93,447.41 826.42,447.62 826.91,447.85 827.40,448.09 827.89,448.33 828.38,448.57 828.87,448.81 829.36,449.03 829.84,449.24 830.33,449.42 830.82,449.58 831.31,449.71 831.80,449.80 832.28,449.87 832.76,449.94 833.24,450.00 833.72,450.07 834.20,450.13 834.69,450.19 835.17,450.25 835.65,450.30 836.13,450.36 836.61,450.41 837.09,450.46 837.57,450.50 838.05,450.54 838.53,450.57 839.01,450.61 839.50,450.63 839.98,450.66 840.46,450.68 840.94,450.69 841.42,450.70 841.90,450.70 842.36,450.65 842.83,450.50 843.29,450.28 843.75,449.98 844.22,449.61 844.68,449.19 845.15,448.74 845.61,448.25 846.07,447.74 846.54,447.22 847.00,446.70 847.50,446.02 848.00,445.14 848.50,444.10 849.00,442.96 849.50,441.79 850.00,440.62 850.50,439.53 851.00,438.56 851.50,437.76 852.00,437.20 852.50,436.78 853.00,436.37 853.50,435.98 854.00,435.63 854.50,435.32 855.00,435.06 855.50,434.87 856.00,434.74 856.50,434.70 856.99,434.78 857.48,435.00 857.97,435.34 858.46,435.78 858.94,436.28 859.43,436.83 859.92,437.40 860.41,437.96 860.90,438.50 861.38,439.06 861.87,439.72 862.35,440.45 862.84,441.24 863.32,442.05 863.81,442.88 864.29,443.70 864.78,444.49 865.26,445.23 865.75,445.91 866.23,446.49 866.72,446.96 867.20,447.30 867.69,447.56 868.18,447.81 868.67,448.05 869.16,448.27 869.64,448.48 870.13,448.68 870.62,448.87 871.11,449.04 871.60,449.21 872.09,449.36 872.58,449.50 873.07,449.63 873.56,449.75 874.04,449.86 874.53,449.96 875.02,450.05 875.51,450.13 876.00,450.20 876.48,450.27 876.97,450.33 877.45,450.40 877.94,450.46 878.42,450.52 878.91,450.58 879.39,450.63 879.87,450.69 880.36,450.74 880.84,450.78 881.33,450.82 881.81,450.86 882.29,450.90 882.78,450.93 883.26,450.95 883.75,450.97 884.23,450.99 884.72,451.00 885.20,451.00 885.68,450.98 886.15,450.93 886.62,450.84 887.10,450.73 887.58,450.59 888.05,450.43 888.52,450.25 889.00,450.06 889.48,449.86 889.95,449.65 890.42,449.43 890.90,449.21 891.38,449.00 891.85,448.79 892.32,448.59 892.80,448.40 893.28,448.20 893.77,447.96 894.25,447.71 894.74,447.44 895.22,447.16 895.71,446.88 896.19,446.62 896.68,446.37 897.16,446.15 897.65,445.97 898.13,445.82 898.62,445.73 899.10,445.70 899.59,445.72 900.09,445.78 900.58,445.87 901.08,445.99 901.57,446.13 902.07,446.30 902.56,446.49 903.06,446.69 903.55,446.91 904.04,447.13 904.54,447.36 905.03,447.59 905.53,447.82 906.02,448.04 906.52,448.25 907.01,448.45 907.51,448.64 908.00,448.80 908.48,448.95 908.96,449.12 909.44,449.28 909.92,449.46 910.40,449.63 910.89,449.81 911.37,449.99 911.85,450.17 912.33,450.34 912.81,450.51 913.29,450.67 913.77,450.83 914.25,450.97 914.73,451.11 915.21,451.23 915.70,451.33 916.18,451.43 916.66,451.50 917.14,451.55 917.62,451.59 918.10,451.60 918.60,451.60 919.09,451.58 919.59,451.56 920.08,451.53 920.58,451.49 921.07,451.45 921.57,451.40 922.07,451.35 922.56,451.29 923.06,451.24 923.55,451.18 924.05,451.12 924.54,451.06 925.04,451.01 925.53,450.95 926.03,450.90 926.53,450.85 927.02,450.81 927.52,450.77 928.01,450.74 928.51,450.72 929.00,450.70 929.50,450.70 930.00,450.70 930.49,450.72 930.99,450.74 931.49,450.77 931.98,450.81 932.48,450.85 932.98,450.90 933.47,450.96 933.97,451.02 934.46,451.08 934.96,451.14 935.46,451.21 935.95,451.28 936.45,451.35 936.95,451.42 937.44,451.49 937.94,451.56 938.44,451.62 938.93,451.68 939.43,451.74 939.92,451.80 940.42,451.85 940.92,451.89 941.41,451.93 941.91,451.96 942.41,451.98 942.90,452.00 943.40,452.00 943.88,451.99 944.35,451.96 944.82,451.90 945.30,451.83 945.77,451.73 946.25,451.61 946.73,451.48 947.20,451.33 947.67,451.15 948.15,450.97 948.62,450.76 949.10,450.54 949.58,450.30 950.05,450.05 950.52,449.78 951.00,449.50 951.50,449.07 952.00,448.41 952.50,447.54 953.00,446.50 953.50,445.31 954.00,443.99 954.50,442.59 955.00,441.12 955.50,439.61 956.00,438.10 956.46,436.53 956.93,434.65 957.39,432.54 957.85,430.26 958.32,427.88 958.78,425.47 959.25,423.09 959.71,420.82 960.17,418.72 960.64,416.86 961.10,415.30 961.58,413.86 962.05,412.40 962.52,410.95 963.00,409.52 963.48,408.15 963.95,406.88 964.42,405.72 964.90,404.71 965.38,403.87 965.85,403.24 966.32,402.84 966.80,402.70 967.29,402.79 967.78,403.04 968.27,403.43 968.76,403.94 969.24,404.56 969.73,405.27 970.22,406.04 970.71,406.85 971.20,407.70 971.66,408.72 972.13,410.13 972.59,411.84 973.05,413.79 973.52,415.90 973.98,418.11 974.45,420.33 974.91,422.51 975.37,424.56 975.84,426.41 976.30,428.00 976.80,429.54 977.30,431.08 977.80,432.59 978.30,434.04 978.80,435.43 979.30,436.73 979.80,437.91 980.30,438.97 980.80,439.87 981.30,440.60 981.79,441.22 982.28,441.83 982.77,442.42 983.26,442.95 983.74,443.43 984.23,443.83 984.72,444.14 985.21,444.33 985.70,444.40 986.19,444.38 986.68,444.31 987.16,444.21 987.65,444.08 988.14,443.92 988.63,443.74 989.12,443.55 989.61,443.35 990.09,443.15 990.58,442.95 991.07,442.76 991.56,442.58 992.05,442.42 992.54,442.29 993.02,442.19 993.51,442.12 994.00,442.10 994.48,442.13 994.95,442.20 995.42,442.32 995.90,442.48 996.38,442.67 996.85,442.89 997.33,443.14 997.80,443.40 998.27,443.69 998.75,443.98 999.23,444.28 999.70,444.58 1000.18,444.88 1000.65,445.17 1001.12,445.44 1001.60,445.70 1002.08,445.96 1002.55,446.23 1003.02,446.53 1003.50,446.83 1003.98,447.14 1004.45,447.46 1004.93,447.78 1005.40,448.09 1005.88,448.40 1006.35,448.70 1006.83,448.99 1007.30,449.26 1007.78,449.51 1008.25,449.73 1008.73,449.93 1009.20,450.10 1009.69,450.26 1010.18,450.41 1010.67,450.56 1011.16,450.71 1011.64,450.86 1012.13,451.00 1012.62,451.14 1013.11,451.27 1013.60,451.39 1014.09,451.51 1014.58,451.61 1015.07,451.71 1015.56,451.79 1016.04,451.86 1016.53,451.92 1017.02,451.96 1017.51,451.99 1018.00,452.00 1018.50,452.00 1019.00,452.01 1019.50,452.01 1020.00,452.01 1020.50,452.01 1021.00,452.02 1021.50,452.02 1022.00,452.02 1022.50,452.02 1023.00,452.02 1023.50,452.03 1024.00,452.03 1024.50,452.03 1025.00,452.03 1025.50,452.03 1026.00,452.03 1026.50,452.04 1027.00,452.04 1027.50,452.04 1028.00,452.04 1028.50,452.04 1029.00,452.04 1029.50,452.04 1030.00,452.04 1030.50,452.05 1031.00,452.05 1031.50,452.05 1032.00,452.05 1032.50,452.05 1033.00,452.05 1033.50,452.05 1034.00,452.05 1034.50,452.05 1035.00,452.05 1035.50,452.05 1036.00,452.05 1036.50,452.05 1037.00,452.05 1037.50,452.05 1038.00,452.05 1038.50,452.05 1039.00,452.06 1039.50,452.06 1040.00,452.06 1040.50,452.06 1041.00,452.06 1041.50,452.06 1042.00,452.06 1042.50,452.06 1043.00,452.06 1043.50,452.06 1044.00,452.06 1044.50,452.06 1045.00,452.06 1045.50,452.06 1046.00,452.06 1046.50,452.06 1047.00,452.06 1047.50,452.06 1048.00,452.06 1048.50,452.06 1049.00,452.07 1049.50,452.07 1050.00,452.07 1050.50,452.07 1051.00,452.07 1051.50,452.07 1052.00,452.07 1052.50,452.07 1053.00,452.07 1053.50,452.08 1054.00,452.08 1054.50,452.08 1055.00,452.08 1055.50,452.08 1056.00,452.08 1056.50,452.08 1057.00,452.09 1057.50,452.09 1058.00,452.09 1058.50,452.09 1059.00,452.10 1059.50,452.10 1060.00,452.10 1060.50,452.10 1061.00,452.11 1061.50,452.12 1062.00,452.13 1062.50,452.14 1063.00,452.16 1063.50,452.18 1064.00,452.20 1064.50,452.22 1065.00,452.24 1065.50,452.26 1066.00,452.29 1066.50,452.31 1067.00,452.34 1067.50,452.37 1068.00,452.40 1068.50,452.42 1069.00,452.45 1069.50,452.48 1070.00,452.51 1070.50,452.54 1071.00,452.57 1071.50,452.60 1072.00,452.63 1072.50,452.66 1073.00,452.68 1073.50,452.71 1074.00,452.73 1074.50,452.76 1075.00,452.78 1075.50,452.80 1076.00,452.82 1076.50,452.84 1077.00,452.85 1077.50,452.87 1078.00,452.88 1078.50,452.89 1079.00,452.89 1079.50,452.90 1080.00,452.90 1080.48,452.89 1080.96,452.87 1081.44,452.84 1081.92,452.80 1082.40,452.74 1082.89,452.68 1083.37,452.61 1083.85,452.53 1084.33,452.44 1084.81,452.35 1085.29,452.26 1085.77,452.16 1086.25,452.06 1086.73,451.96 1087.21,451.86 1087.70,451.76 1088.18,451.66 1088.66,451.56 1089.14,451.47 1089.62,451.38 1090.10,451.30 1090.60,451.22 1091.10,451.12 1091.60,451.03 1092.10,450.93 1092.60,450.82 1093.10,450.71 1093.60,450.60 1094.10,450.49 1094.60,450.38 1095.10,450.27 1095.60,450.16 1096.10,450.06 1096.60,449.95 1097.10,449.86 1097.60,449.76 1098.10,449.67 1098.60,449.59 1099.10,449.52 1099.60,449.46 1100.10,449.40 1100.60,449.36 1101.10,449.33 1101.60,449.31 1102.10,449.30 1102.60,449.31 1103.10,449.35 1103.60,449.40 1104.10,449.48 1104.60,449.57 1105.10,449.67 1105.60,449.79 1106.10,449.92 1106.60,450.06 1107.10,450.21 1107.60,450.36 1108.10,450.51 1108.60,450.67 1109.10,450.82 1109.60,450.97 1110.10,451.11 1110.60,451.25 1111.10,451.38 1111.60,451.50 1112.10,451.60 1112.58,451.69 1113.07,451.79 1113.55,451.89 1114.04,451.98 1114.52,452.08 1115.00,452.18 1115.49,452.28 1115.97,452.37 1116.46,452.47 1116.94,452.56 1117.42,452.66 1117.91,452.75 1118.39,452.84 1118.88,452.92 1119.36,453.00 1119.84,453.08 1120.33,453.16 1120.81,453.23 1121.30,453.30 1121.78,453.36 1122.26,453.42 1122.75,453.48 1123.23,453.52 1123.72,453.56 1124.20,453.60 1124.70,453.63 1125.20,453.67 1125.70,453.70 1126.20,453.73 1126.70,453.76 1127.20,453.79 1127.70,453.82 1128.20,453.85 1128.70,453.88 1129.20,453.90 1129.70,453.93 1130.20,453.95 1130.70,453.97 1131.20,453.99 1131.70,454.01 1132.20,454.03 1132.70,454.05 1133.20,454.06 1133.70,454.07 1134.20,454.08 1134.70,454.09 1135.20,454.10 1135.70,454.10 1136.20,454.10 1136.70,454.10 1137.20,454.10 1137.70,454.09 1138.20,454.09 1138.70,454.08 1139.20,454.07 1139.70,454.07 1140.20,454.06 1140.70,454.04 1141.20,454.03 1141.70,454.02 1142.20,454.00 1142.70,453.98 1143.20,453.97 1143.70,453.95 1144.20,453.93 1144.70,453.91 1145.20,453.88 1145.70,453.86 1146.20,453.84 1146.70,453.81 1147.20,453.78 1147.70,453.75 1148.20,453.73 1148.70,453.70 1149.20,453.66 1149.70,453.63 1150.20,453.60 1150.68,453.56 1151.16,453.51 1151.64,453.45 1152.12,453.37 1152.60,453.28 1153.09,453.18 1153.57,453.07 1154.05,452.95 1154.53,452.82 1155.01,452.68 1155.49,452.53 1155.97,452.37 1156.45,452.21 1156.93,452.03 1157.41,451.85 1157.90,451.65 1158.38,451.46 1158.86,451.25 1159.34,451.04 1159.82,450.82 1160.30,450.60 1160.80,450.35 1161.30,450.06 1161.80,449.73 1162.30,449.37 1162.80,448.97 1163.30,448.54 1163.80,448.06 1164.30,447.55 1164.80,447.00 1165.30,446.40 1165.80,445.77 1166.30,445.10 1166.80,444.33 1167.30,443.40 1167.80,442.32 1168.30,441.11 1168.80,439.77 1169.30,438.31 1169.80,436.75 1170.30,435.10 1170.73,433.50 1171.16,431.63 1171.59,429.54 1172.01,427.28 1172.44,424.91 1172.87,422.46 1173.30,420.00 1173.60,418.27 1173.90,416.50 1174.20,414.68 1174.50,412.82 1174.80,410.89 1175.10,408.90 1175.40,406.82 1175.70,404.65 1176.00,402.38 1176.30,400.00 1176.49,398.36 1176.69,396.61 1176.88,394.74 1177.07,392.79 1177.27,390.76 1177.46,388.67 1177.65,386.54 1177.85,384.39 1178.04,382.23 1178.23,380.08 1178.43,377.95 1178.62,375.86 1178.81,373.83 1179.01,371.87 1179.20,370.00 1179.44,367.81 1179.67,365.68 1179.91,363.59 1180.14,361.55 1180.38,359.54 1180.61,357.55 1180.85,355.58 1181.09,353.62 1181.32,351.65 1181.56,349.69 1181.79,347.71 1182.03,345.70 1182.26,343.67 1182.50,341.60 1182.73,339.48 1182.97,337.27 1183.20,334.99 1183.43,332.68 1183.67,330.36 1183.90,328.06 1184.13,325.80 1184.37,323.60 1184.60,321.50 1184.83,319.51 1185.07,317.67 1185.30,316.00 1185.69,313.38 1186.07,310.78 1186.46,308.31 1186.84,306.05 1187.23,304.10 1187.61,302.55 1188.00,301.50 1188.50,300.54 1189.00,299.69 1189.50,299.01 1190.00,298.56 1190.50,298.40 1191.00,298.57 1191.50,299.04 1192.00,299.77 1192.50,300.71 1193.00,301.80 1193.50,303.00 1193.80,303.96 1194.10,305.33 1194.40,307.04 1194.70,309.04 1195.00,311.28 1195.30,313.69 1195.60,316.22 1195.90,318.82 1196.20,321.42 1196.50,323.97 1196.80,326.42 1197.10,328.70 1197.37,330.70 1197.65,332.73 1197.92,334.76 1198.19,336.82 1198.47,338.88 1198.74,340.96 1199.02,343.04 1199.29,345.12 1199.56,347.20 1199.84,349.28 1200.11,351.35 1200.38,353.42 1200.66,355.47 1200.93,357.51 1201.21,359.53 1201.48,361.54 1201.75,363.52 1202.03,365.47 1202.30,367.40 1202.62,369.64 1202.94,371.91 1203.26,374.18 1203.58,376.47 1203.89,378.74 1204.21,381.01 1204.53,383.25 1204.85,385.46 1205.17,387.64 1205.49,389.76 1205.81,391.83 1206.12,393.83 1206.44,395.76 1206.76,397.60 1207.08,399.35 1207.40,401.00 1207.90,403.48 1208.40,405.90 1208.90,408.26 1209.40,410.56 1209.90,412.77 1210.40,414.90 1210.90,416.94 1211.40,418.88 1211.90,420.71 1212.40,422.43 1212.90,424.02 1213.40,425.48 1213.90,426.80 1214.39,428.02 1214.88,429.21 1215.37,430.37 1215.86,431.51 1216.35,432.63 1216.84,433.70 1217.33,434.75 1217.82,435.76 1218.31,436.74 1218.80,437.67 1219.30,438.57 1219.79,439.42 1220.28,440.22 1220.77,440.98 1221.26,441.69 1221.75,442.35 1222.24,442.95 1222.73,443.50 1223.22,443.99 1223.71,444.43 1224.20,444.80 1224.69,445.14 1225.18,445.46 1225.67,445.78 1226.16,446.09 1226.65,446.40 1227.14,446.69 1227.62,446.98 1228.11,447.26 1228.60,447.53 1229.09,447.79 1229.58,448.05 1230.07,448.30 1230.56,448.54 1231.05,448.77 1231.54,448.99 1232.03,449.21 1232.52,449.42 1233.01,449.62 1233.49,449.82 1233.98,450.00 1234.47,450.18 1234.96,450.36 1235.45,450.52 1235.94,450.68 1236.43,450.83 1236.92,450.97 1237.41,451.11 1237.90,451.24 1238.39,451.36 1238.88,451.48 1239.36,451.59 1239.85,451.69 1240.34,451.79 1240.83,451.87 1241.32,451.96 1241.81,452.03 1242.30,452.10 1242.80,452.17 1243.30,452.23 1243.80,452.30 1244.29,452.36 1244.79,452.42 1245.29,452.48 1245.79,452.55 1246.29,452.61 1246.79,452.67 1247.28,452.72 1247.78,452.78 1248.28,452.84 1248.78,452.89 1249.28,452.95 1249.78,453.00 1250.27,453.06 1250.77,453.11 1251.27,453.16 1251.77,453.21 1252.27,453.26 1252.77,453.31 1253.26,453.36 1253.76,453.40 1254.26,453.45 1254.76,453.49 1255.26,453.54 1255.76,453.58 1256.25,453.62 1256.75,453.66 1257.25,453.70 1257.75,453.74 1258.25,453.78 1258.75,453.81 1259.25,453.85 1259.74,453.88 1260.24,453.92 1260.74,453.95 1261.24,453.98 1261.74,454.01 1262.24,454.04 1262.73,454.07 1263.23,454.10 1263.73,454.12 1264.23,454.15 1264.73,454.17 1265.23,454.19 1265.72,454.21 1266.22,454.24 1266.72,454.25 1267.22,454.27 1267.72,454.29 1268.22,454.31 1268.71,454.32 1269.21,454.33 1269.71,454.35 1270.21,454.36 1270.71,454.37 1271.21,454.38 1271.70,454.38 1272.20,454.39 1272.70,454.40 1273.20,454.40 1273.70,454.40 1274.19,454.41 1274.69,454.41 1275.19,454.41 1275.68,454.42 1276.18,454.42 1276.67,454.42 1277.17,454.43 1277.67,454.43 1278.16,454.43 1278.66,454.43 1279.16,454.44 1279.65,454.44 1280.15,454.44 1280.64,454.45 1281.14,454.45 1281.64,454.45 1282.13,454.45 1282.63,454.46 1283.13,454.46 1283.62,454.46 1284.12,454.46 1284.61,454.47 1285.11,454.47 1285.61,454.47 1286.10,454.47 1286.60,454.47 1287.10,454.48 1287.59,454.48 1288.09,454.48 1288.59,454.48 1289.08,454.48 1289.58,454.48 1290.07,454.49 1290.57,454.49 1291.07,454.49 1291.56,454.49 1292.06,454.49 1292.56,454.49 1293.05,454.49 1293.55,454.49 1294.04,454.49 1294.54,454.50 1295.04,454.50 1295.53,454.50 1296.03,454.50 1296.53,454.50 1297.02,454.50 1297.52,454.50 1298.01,454.50 1298.51,454.50 1299.01,454.50 1299.50,454.50 1300.00,454.50 1300.50,454.50 1301.00,454.50 1301.50,454.50 1302.00,454.50 1302.50,454.50 1303.00,454.50 1303.50,454.50 1304.00,454.50 1304.50,454.50 1305.00,454.50 1305.50,454.50 1306.00,454.50 1306.50,454.50 1307.00,454.50 1307.50,454.50 1308.00,454.50 1308.50,454.50 1309.00,454.50 1309.50,454.50 1310.00,454.50 1310.50,454.50 1311.00,454.50 1311.50,454.50 1312.00,454.50 1312.50,454.50 1313.00,454.50 1313.50,454.50 1314.00,454.49 1314.50,454.49 1315.00,454.49 1315.50,454.49 1316.00,454.49 1316.50,454.49 1317.00,454.49 1317.50,454.49 1318.00,454.49 1318.50,454.49 1319.00,454.49 1319.50,454.49 1320.00,454.49 1320.50,454.49 1321.00,454.49 1321.50,454.49 1322.00,454.49 1322.50,454.49 1323.00,454.48 1323.50,454.48 1324.00,454.48 1324.50,454.48 1325.00,454.48 1325.50,454.48 1326.00,454.48 1326.50,454.48 1327.00,454.48 1327.50,454.48 1328.00,454.48 1328.50,454.47 1329.00,454.47 1329.50,454.47 1330.00,454.47 1330.50,454.47 1331.00,454.47 1331.50,454.47 1332.00,454.47 1332.50,454.46 1333.00,454.46 1333.50,454.46 1334.00,454.46 1334.50,454.46 1335.00,454.46 1335.50,454.46 1336.00,454.46 1336.50,454.45 1337.00,454.45 1337.50,454.45 1338.00,454.45 1338.50,454.45 1339.00,454.45 1339.50,454.44 1340.00,454.44 1340.50,454.44 1341.00,454.44 1341.50,454.44 1342.00,454.43 1342.50,454.43 1343.00,454.43 1343.50,454.43 1344.00,454.43 1344.50,454.42 1345.00,454.42 1345.50,454.42 1346.00,454.42 1346.50,454.42 1347.00,454.41 1347.50,454.41 1348.00,454.41 1348.50,454.41 1349.00,454.40 1349.50,454.40 1350.00,454.40 1350.50,454.39 1351.00,454.38 1351.50,454.37 1352.00,454.34 1352.50,454.32 1353.00,454.28 1353.50,454.25 1354.00,454.21 1354.50,454.17 1355.00,454.12 1355.50,454.07 1356.00,454.02 1356.50,453.97 1357.00,453.92 1357.50,453.86 1358.00,453.81 1358.50,453.76 1359.00,453.70 1359.50,453.65 1360.00,453.60 1360.49,453.55 1360.98,453.48 1361.47,453.41 1361.96,453.34 1362.45,453.26 1362.94,453.17 1363.43,453.08 1363.92,452.99 1364.41,452.90 1364.90,452.81 1365.40,452.73 1365.89,452.64 1366.38,452.56 1366.87,452.49 1367.36,452.42 1367.85,452.36 1368.34,452.30 1368.83,452.26 1369.32,452.23 1369.81,452.21 1370.30,452.20 1370.78,452.21 1371.27,452.22 1371.75,452.25 1372.24,452.29 1372.72,452.34 1373.21,452.39 1373.69,452.45 1374.18,452.52 1374.66,452.59 1375.15,452.66 1375.63,452.74 1376.12,452.82 1376.61,452.90 1377.09,452.98 1377.58,453.06 1378.06,453.13 1378.55,453.21 1379.03,453.28 1379.52,453.34 1380.00,453.40 1380.49,453.46 1380.99,453.52 1381.48,453.59 1381.98,453.66 1382.47,453.73 1382.96,453.80 1383.46,453.87 1383.95,453.94 1384.45,454.00 1384.94,454.06 1385.44,454.12 1385.93,454.17 1386.42,454.21 1386.92,454.25 1387.41,454.28 1387.91,454.29 1388.40,454.30 1388.90,454.30 1389.40,454.30 1389.90,454.30 1390.39,454.30 1390.89,454.30 1391.39,454.30 1391.89,454.30 1392.39,454.30 1392.89,454.30 1393.39,454.30 1393.88,454.30 1394.38,454.30 1394.88,454.30 1395.38,454.30 1395.88,454.30 1396.38,454.30 1396.88,454.30 1397.37,454.30 1397.87,454.30 1398.37,454.30 1398.87,454.30 1399.37,454.30 1399.87,454.30 1400.37,454.30 1400.86,454.30 1401.36,454.30 1401.86,454.30 1402.36,454.30 1402.86,454.30 1403.36,454.30 1403.86,454.30 1404.35,454.30 1404.85,454.30 1405.35,454.30 1405.85,454.30 1406.35,454.30 1406.85,454.30 1407.35,454.30 1407.84,454.30 1408.34,454.30 1408.84,454.30 1409.34,454.30 1409.84,454.30 1410.34,454.30 1410.84,454.30 1411.33,454.30 1411.83,454.30 1412.33,454.30 1412.83,454.30 1413.33,454.30 1413.83,454.30 1414.33,454.30 1414.82,454.30 1415.32,454.30 1415.82,454.30 1416.32,454.30 1416.82,454.30 1417.32,454.30 1417.82,454.30 1418.31,454.30 1418.81,454.30 1419.31,454.30 1419.81,454.30 1420.31,454.30 1420.81,454.30 1421.31,454.30 1421.80,454.30 1422.30,454.30 1422.80,454.30 1423.30,454.30 1423.80,454.30 1424.30,454.30 1424.80,454.30 1425.29,454.30 1425.79,454.30 1426.29,454.30 1426.79,454.30 1427.29,454.30 1427.79,454.30 1428.29,454.30 1428.78,454.30 1429.28,454.30 1429.78,454.30 1430.28,454.30 1430.78,454.30 1431.28,454.30 1431.78,454.30 1432.27,454.30 1432.77,454.30 1433.27,454.30 1433.77,454.30 1434.27,454.30 1434.77,454.30 1435.27,454.30 1435.76,454.30 1436.26,454.30 1436.76,454.30 1437.26,454.30 1437.76,454.30 1438.26,454.30 1438.76,454.30 1439.25,454.30 1439.75,454.30 1440.25,454.30 1440.75,454.30 1441.25,454.30 1441.75,454.30 1442.25,454.30 1442.74,454.30 1443.24,454.30 1443.74,454.30 1444.24,454.30 1444.74,454.30 1445.24,454.30 1445.74,454.30 1446.23,454.30 1446.73,454.30 1447.23,454.30 1447.73,454.30 1448.23,454.30 1448.73,454.30 1449.23,454.30 1449.72,454.30 1450.22,454.30 1450.72,454.30 1451.22,454.30 1451.72,454.30 1452.22,454.30 1452.72,454.30 1453.21,454.30 1453.71,454.30 1454.21,454.30 1454.71,454.30 1455.21,454.30 1455.71,454.30 1456.21,454.30 1456.70,454.30 1457.20,454.30 1457.70,454.30 1458.20,454.30 1458.70,454.30 1459.20,454.30 1459.70,454.30 1460.19,454.30 1460.69,454.30 1461.19,454.30 1461.69,454.30 1462.19,454.30 1462.69,454.30 1463.19,454.30 1463.68,454.30 1464.18,454.30 1464.68,454.30 1465.18,454.30 1465.68,454.30 1466.18,454.30 1466.68,454.30 1467.17,454.30 1467.67,454.30 1468.17,454.30 1468.67,454.30 1469.17,454.30 1469.67,454.30 1470.17,454.30 1470.66,454.30 1471.16,454.30 1471.66,454.30 1472.16,454.30 1472.66,454.30 1473.16,454.30 1473.66,454.30 1474.15,454.30 1474.65,454.30 1475.15,454.30 1475.65,454.30 1476.15,454.30 1476.65,454.30 1477.15,454.30 1477.64,454.30 1478.14,454.30 1478.64,454.30 1479.14,454.30 1479.64,454.30 1480.14,454.30 1480.64,454.30 1481.13,454.30 1481.63,454.30 1482.13,454.30 1482.63,454.30 1483.13,454.30 1483.63,454.30 1484.13,454.30 1484.62,454.30 1485.12,454.30 1485.62,454.30 1486.12,454.30 1486.62,454.30 1487.12,454.30 1487.62,454.30 1488.11,454.30 1488.61,454.30 1489.11,454.30 1489.61,454.30 1490.11,454.30 1490.61,454.30 1491.11,454.30 1491.60,454.30 1492.10,454.30 1492.60,454.30 1493.10,454.30 1493.60,454.30 1494.10,454.30 1494.60,454.30 1495.09,454.30 1495.59,454.30 1496.09,454.30 1496.59,454.30 1497.09,454.30 1497.59,454.30 1498.09,454.30 1498.58,454.30 1499.08,454.30 1499.58,454.30 1500.08,454.30 1500.58,454.30 1501.08,454.30 1501.58,454.30 1502.07,454.30 1502.57,454.30 1503.07,454.30 1503.57,454.30 1504.07,454.30 1504.57,454.30 1505.07,454.30 1505.56,454.30 1506.06,454.30 1506.56,454.30 1507.06,454.30 1507.56,454.30 1508.06,454.30 1508.56,454.30 1509.05,454.30 1509.55,454.30 1510.05,454.30 1510.55,454.30 1511.05,454.30 1511.55,454.30 1512.05,454.30 1512.54,454.30 1513.04,454.30 1513.54,454.30 1514.04,454.30 1514.54,454.30 1515.04,454.30 1515.54,454.30 1516.03,454.30 1516.53,454.30 1517.03,454.30 1517.53,454.30 1518.03,454.30 1518.53,454.30 1519.03,454.30 1519.52,454.30 1520.02,454.30 1520.52,454.30 1521.02,454.30 1521.52,454.30 1522.02,454.30 1522.52,454.30 1523.01,454.30 1523.51,454.30 1524.01,454.30 1524.51,454.30 1525.01,454.30 1525.51,454.30 1526.01,454.30 1526.50,454.30 1527.00,454.30 1527.50,454.30 1528.00,454.30" fill="none" stroke="#7472bc" stroke-width="1.5" stroke-linejoin="round"/>
<line x1="1136.5" y1="455.0" x2="1298" y2="455.2" stroke="#eb9fe6" stroke-width="1.3"/><line x1="1136.4" y1="449.5" x2="1136.4" y2="455" stroke="#555" stroke-width="1.3"/><line x1="1298.2" y1="454.7" x2="1298.2" y2="458.2" stroke="#555" stroke-width="1.3"/><rect x="1133.0" y="143.0" width="139.6" height="62.6" fill="#fff" stroke="#111" stroke-width="1.4"/>
<g><text transform="matrix(1.561,0,0,1,121.797,34.781)" font-size="11.857" style="font-family:'Liberation Sans', Arial, sans-serif" fill="#3c3c3c" stroke="#3c3c3c" stroke-width="0.15">mAU</text><text transform="matrix(1.568,0,0,1,168.842,460.162)" font-size="13.803" style="font-family:'Liberation Sans', Arial, sans-serif" fill="#3c3c3c" stroke="#3c3c3c" stroke-width="0.15">0</text><text transform="matrix(1.524,0,0,1,157.458,398.447)" font-size="13.803" style="font-family:'Liberation Sans', Arial, sans-serif" fill="#3c3c3c" stroke="#3c3c3c" stroke-width="0.15">50</text><text transform="matrix(1.414,0,0,1,148.236,336.732)" font-size="13.803" style="font-family:'Liberation Sans', Arial, sans-serif" fill="#3c3c3c" stroke="#3c3c3c" stroke-width="0.15">100</text><text transform="matrix(1.414,0,0,1,148.236,275.017)" font-size="13.803" style="font-family:'Liberation Sans', Arial, sans-serif" fill="#3c3c3c" stroke="#3c3c3c" stroke-width="0.15">150</text><text transform="matrix(1.506,0,0,1,146.16,213.302)" font-size="13.803" style="font-family:'Liberation Sans', Arial, sans-serif" fill="#3c3c3c" stroke="#3c3c3c" stroke-width="0.15">200</text><text transform="matrix(1.506,0,0,1,146.16,151.587)" font-size="13.803" style="font-family:'Liberation Sans', Arial, sans-serif" fill="#3c3c3c" stroke="#3c3c3c" stroke-width="0.15">250</text><text transform="matrix(1.492,0,0,1,146.479,89.872)" font-size="13.803" style="font-family:'Liberation Sans', Arial, sans-serif" fill="#3c3c3c" stroke="#3c3c3c" stroke-width="0.15">300</text><text transform="matrix(1.623,0,0,1,191.264,494.47)" font-size="12.958" style="font-family:'Liberation Sans', Arial, sans-serif" fill="#3c3c3c" stroke="#3c3c3c" stroke-width="0.15">0</text><text transform="matrix(1.687,0,0,1,336.491,494.6)" font-size="13.143" style="font-family:'Liberation Sans', Arial, sans-serif" fill="#3c3c3c" stroke="#3c3c3c" stroke-width="0.15">2</text><text transform="matrix(1.511,0,0,1,482.8,494.534)" font-size="13.237" style="font-family:'Liberation Sans', Arial, sans-serif" fill="#3c3c3c" stroke="#3c3c3c" stroke-width="0.15">4</text><text transform="matrix(1.693,0,0,1,627.703,494.47)" font-size="12.958" style="font-family:'Liberation Sans', Arial, sans-serif" fill="#3c3c3c" stroke="#3c3c3c" stroke-width="0.15">6</text><text transform="matrix(1.669,0,0,1,773.541,494.471)" font-size="12.867" style="font-family:'Liberation Sans', Arial, sans-serif" fill="#3c3c3c" stroke="#3c3c3c" stroke-width="0.15">8</text><text transform="matrix(1.465,0,0,1,915.177,494.47)" font-size="12.958" style="font-family:'Liberation Sans', Arial, sans-serif" fill="#3c3c3c" stroke="#3c3c3c" stroke-width="0.15">10</text><text transform="matrix(1.459,0,0,1,1060.762,494.6)" font-size="13.143" style="font-family:'Liberation Sans', Arial, sans-serif" fill="#3c3c3c" stroke="#3c3c3c" stroke-width="0.15">12</text><text transform="matrix(1.419,0,0,1,1206.391,494.534)" font-size="13.237" style="font-family:'Liberation Sans', Arial, sans-serif" fill="#3c3c3c" stroke="#3c3c3c" stroke-width="0.15">14</text><text transform="matrix(1.472,0,0,1,1351.969,494.47)" font-size="12.958" style="font-family:'Liberation Sans', Arial, sans-serif" fill="#3c3c3c" stroke="#3c3c3c" stroke-width="0.15">16</text><text transform="matrix(1.914,0,0,1,111.758,579.327)" font-size="19.679" style="font-family:'Liberation Serif', 'Noto Serif CJK SC', serif" fill="#333">保留时间</text><text transform="matrix(1.963,0,0,1,420.318,578.547)" font-size="18.872" style="font-family:'Liberation Serif', 'Noto Serif CJK SC', serif" fill="#333">峰面积</text><text transform="matrix(1.899,0,0,1,632.113,579.336)" font-size="19.574" style="font-family:'Liberation Serif', 'Noto Serif CJK SC', serif" fill="#333">峰高</text><text transform="matrix(1.861,0,0,1,824.069,579.4)" font-size="20" style="font-family:'Liberation Serif', 'Noto Serif CJK SC', serif" fill="#333">对称</text><text transform="matrix(1.879,0,0,1,959.421,579.327)" font-size="19.679" style="font-family:'Liberation Serif', 'Noto Serif CJK SC', serif" fill="#333">峰宽</text><text transform="matrix(1.881,0,0,1,1055.055,579.318)" font-size="19.785" style="font-family:'Liberation Serif', 'Noto Serif CJK SC', serif" fill="#333">塔板数</text><text transform="matrix(1.911,0,0,1,1190.878,579.336)" font-size="19.574" style="font-family:'Liberation Serif', 'Noto Serif CJK SC', serif" fill="#333">分离度</text><text transform="matrix(1.932,0,0,1,1323.462,579.318)" font-size="19.785" style="font-family:'Liberation Serif', 'Noto Serif CJK SC', serif" fill="#333">选择性</text><text transform="matrix(1.938,0,0,1,840.688,603.627)" font-size="19.669" style="font-family:'Liberation Serif', 'Noto Serif CJK SC', serif" fill="#333">因子</text><text transform="matrix(2.244,0,0,1,320.634,578.421)" font-size="15.753" style="font-family:'Liberation Mono', 'Courier New', monospace" fill="#333" stroke="#333" stroke-width="0.3">k'</text><text transform="matrix(1.5,0,0,1,319.7,657.55)" font-size="30" style="font-family:'Liberation Mono', 'Courier New', monospace" fill="#333" stroke="#333" stroke-width="0.3">-</text><text transform="matrix(1.81,0,0,1,1279.414,657.55)" font-size="30" style="font-family:'Liberation Mono', 'Courier New', monospace" fill="#333" stroke="#333" stroke-width="0.3">-</text><text transform="matrix(1.655,0,0,1,1415.557,657.55)" font-size="30" style="font-family:'Liberation Mono', 'Courier New', monospace" fill="#333" stroke="#333" stroke-width="0.3">-</text><text transform="matrix(1.4,0,0,1,0,604.4)" x="93.842 107.603 121.364 135.125 148.885" font-size="17.9" style="font-family:'Liberation Mono', 'Courier New', monospace" fill="#3a3a3a" stroke="#3a3a3a" stroke-width="0.0">[min]</text><text transform="matrix(1.4,0,0,1,0,604.4)" x="286.493 300.253 314.014" font-size="17.9" style="font-family:'Liberation Mono', 'Courier New', monospace" fill="#3a3a3a" stroke="#3a3a3a" stroke-width="0.0">mAU</text><text transform="matrix(1.4,0,0,1,0,604.4)" x="369.057 382.818" font-size="17.9" style="font-family:'Liberation Mono', 'Courier New', monospace" fill="#3a3a3a" stroke="#3a3a3a" stroke-width="0.0">*s</text><text transform="matrix(1.4,0,0,1,0,604.4)" x="437.86 451.621 465.382 479.143" font-size="17.9" style="font-family:'Liberation Mono', 'Courier New', monospace" fill="#3a3a3a" stroke="#3a3a3a" stroke-width="0.0">[mAU</text><text transform="matrix(1.4,0,0,1,0,604.4)" x="534.185" font-size="17.9" style="font-family:'Liberation Mono', 'Courier New', monospace" fill="#3a3a3a" stroke="#3a3a3a" stroke-width="0.0">]</text><text transform="matrix(1.4,0,0,1,0,604.4)" x="685.553 699.314 713.075 726.835 740.596" font-size="17.9" style="font-family:'Liberation Mono', 'Courier New', monospace" fill="#3a3a3a" stroke="#3a3a3a" stroke-width="0.0">[min]</text><text transform="matrix(1.4,0,0,1,0,654)" x="93.692 107.453 121.214 134.975 148.735 162.496" font-size="18.4" style="font-family:'Liberation Mono', 'Courier New', monospace" fill="#333" stroke="#333" stroke-width="0.35">13.649</text><text transform="matrix(1.4,0,0,1,0,654)" x="286.343 300.103 313.864 327.625 341.385 355.146 368.907 382.668 396.428 410.189" font-size="18.4" style="font-family:'Liberation Mono', 'Courier New', monospace" fill="#333" stroke="#333" stroke-width="0.35">3040.17773</text><text transform="matrix(1.4,0,0,1,0,654)" x="451.471 465.232 478.993 492.753 506.514 520.275 534.035 547.796 561.557" font-size="18.4" style="font-family:'Liberation Mono', 'Courier New', monospace" fill="#333" stroke="#333" stroke-width="0.35">127.46279</text><text transform="matrix(1.4,0,0,1,0,654)" x="602.839 616.6 630.36 644.121" font-size="18.4" style="font-family:'Liberation Mono', 'Courier New', monospace" fill="#333" stroke="#333" stroke-width="0.35">0.80</text><text transform="matrix(1.4,0,0,1,0,654)" x="685.403 699.164 712.925 726.685 740.446 754.207" font-size="18.4" style="font-family:'Liberation Mono', 'Courier New', monospace" fill="#333" stroke="#333" stroke-width="0.35">0.3322</text><text transform="matrix(1.4,0,0,1,0,654)" x="823.01 836.771 850.532 864.293" font-size="18.4" style="font-family:'Liberation Mono', 'Courier New', monospace" fill="#333" stroke="#333" stroke-width="0.35">9356</text><text transform="matrix(1.743,0,0,1,246.121,628.519)" font-size="16.578" style="font-family:'Liberation Mono', 'Courier New', monospace" fill="#333" stroke="#333" stroke-width="0.3">|</text><text transform="matrix(1.743,0,0,1,380.976,628.519)" font-size="16.578" style="font-family:'Liberation Mono', 'Courier New', monospace" fill="#333" stroke="#333" stroke-width="0.3">|</text><text transform="matrix(1.743,0,0,1,592.891,628.519)" font-size="16.578" style="font-family:'Liberation Mono', 'Courier New', monospace" fill="#333" stroke="#333" stroke-width="0.3">|</text><text transform="matrix(1.743,0,0,1,804.806,628.519)" font-size="16.578" style="font-family:'Liberation Mono', 'Courier New', monospace" fill="#333" stroke="#333" stroke-width="0.3">|</text><text transform="matrix(1.743,0,0,1,920.396,628.519)" font-size="16.578" style="font-family:'Liberation Mono', 'Courier New', monospace" fill="#333" stroke="#333" stroke-width="0.3">|</text><text transform="matrix(1.743,0,0,1,1074.516,628.519)" font-size="16.578" style="font-family:'Liberation Mono', 'Courier New', monospace" fill="#333" stroke="#333" stroke-width="0.3">|</text><text transform="matrix(1.743,0,0,1,1228.636,628.519)" font-size="16.578" style="font-family:'Liberation Mono', 'Courier New', monospace" fill="#333" stroke="#333" stroke-width="0.3">|</text><text transform="matrix(1.743,0,0,1,1344.226,628.519)" font-size="16.578" style="font-family:'Liberation Mono', 'Courier New', monospace" fill="#333" stroke="#333" stroke-width="0.3">|</text><text transform="matrix(1.429,0,0,1,0,632.594)" x="73.63 87.116 100.601 114.087 127.572 141.058 154.543" font-size="33.75" style="font-family:'Liberation Mono', 'Courier New', monospace" fill="#333">-------</text><text transform="matrix(1.429,0,0,1,0,632.594)" x="181.514 195 208.485 221.971 235.456 248.942" font-size="33.75" style="font-family:'Liberation Mono', 'Courier New', monospace" fill="#333">------</text><text transform="matrix(1.429,0,0,1,0,632.594)" x="275.913 289.398 302.884 316.369 329.855 343.34 356.826 370.311 383.797 397.282" font-size="33.75" style="font-family:'Liberation Mono', 'Courier New', monospace" fill="#333">----------</text><text transform="matrix(1.429,0,0,1,0,632.594)" x="424.253 437.739 451.224 464.71 478.195 491.681 505.166 518.652 532.137 545.623" font-size="33.75" style="font-family:'Liberation Mono', 'Courier New', monospace" fill="#333">----------</text><text transform="matrix(1.429,0,0,1,0,632.594)" x="572.594 586.079 599.565 613.05 626.536" font-size="33.75" style="font-family:'Liberation Mono', 'Courier New', monospace" fill="#333">-----</text><text transform="matrix(1.429,0,0,1,0,632.594)" x="653.507 666.992 680.478 693.963 707.449 720.934 734.42" font-size="33.75" style="font-family:'Liberation Mono', 'Courier New', monospace" fill="#333">-------</text><text transform="matrix(1.429,0,0,1,0,632.594)" x="761.391 774.876 788.362 801.847 815.333 828.818 842.304" font-size="33.75" style="font-family:'Liberation Mono', 'Courier New', monospace" fill="#333">-------</text><text transform="matrix(1.429,0,0,1,0,632.594)" x="869.275 882.76 896.246 909.731 923.217" font-size="33.75" style="font-family:'Liberation Mono', 'Courier New', monospace" fill="#333">-----</text><text transform="matrix(1.429,0,0,1,0,632.594)" x="950.188 963.673 977.159 990.644 1004.13 1017.615" font-size="33.75" style="font-family:'Liberation Mono', 'Courier New', monospace" fill="#333">------</text><text transform="matrix(1.016,0,0,1,1155.869,187.404)" font-size="30.538" style="font-family:'Liberation Serif', 'Noto Serif CJK SC', serif" fill="#111">橙皮苷</text><text transform="matrix(0,-1,1.685,0,1198.393,293.422)" font-size="12.29" style="font-family:'Liberation Sans', Arial, sans-serif" fill="#2a2a2a" stroke="#2a2a2a" stroke-width="0.3">13.649</text><g clip-path="url(#plot)"><text transform="matrix(1.638,0,0,1,1499.531,494.54)" font-size="11.918" style="font-family:'Liberation Sans', Arial, sans-serif" fill="#3c3c3c" stroke="#3c3c3c" stroke-width="0.15">min</text></g></g>
<g id="wm"><g transform="matrix(0.70711,-0.70711,0.70711,0.70711,0,0)"><path d="M-300.4,891.9 L-302.6,885.1 L-304.4,878.2 L-305.6,871.2 L-306.4,864.1 L-306.6,857.0 L-306.4,849.9 L-305.6,842.8 L-304.4,835.8 L-302.6,828.9 L-300.4,822.1 L-297.8,815.5 L-294.7,809.1 L-291.1,802.9 L-287.1,797.0 L-282.7,791.4 L-278.0,786.1 L-272.9,781.2 L-267.4,776.6 L-261.6,772.4 L-255.6,768.7 L-249.3,765.3 L-242.8,762.4 L-236.1,760.0 L-229.3,758.0 L-222.3,756.5 L-215.3,755.6 L-208.2,755.1 L-201.0,755.1 L-193.9,755.6 L-186.9,756.5 L-179.9,758.0 L-173.1,760.0 L-166.4,762.4 L-159.9,765.3 L-153.6,768.7 L-147.6,772.4 L-141.8,776.6 L-136.3,781.2 L-131.2,786.1 L-126.5,791.4 L-122.1,797.0 L-118.1,802.9 L-114.5,809.1 L-111.4,815.5 L-108.8,822.1 L-106.6,828.9 L-104.8,835.8 L-103.6,842.8 L-102.8,849.9 L-102.8,849.9 L-134.8,852.1 L-134.8,852.1 L-135.3,847.3 L-136.1,842.4 L-137.3,837.7 L-138.8,833.1 L-140.7,828.5 L-142.8,824.1 L-145.2,819.9 L-148.0,815.9 L-151.0,812.0 L-154.2,808.4 L-157.8,805.0 L-161.5,801.8 L-165.5,799.0 L-169.6,796.4 L-173.9,794.1 L-178.4,792.1 L-183.0,790.4 L-187.7,789.1 L-192.4,788.1 L-197.3,787.4 L-202.2,787.0 L-207.0,787.0 L-211.9,787.4 L-216.8,788.1 L-221.5,789.1 L-226.2,790.4 L-230.8,792.1 L-235.3,794.1 L-239.6,796.4 L-243.7,799.0 L-247.7,801.8 L-251.4,805.0 L-255.0,808.4 L-258.2,812.0 L-261.2,815.9 L-264.0,819.9 L-266.4,824.1 L-268.5,828.5 L-270.4,833.1 L-271.9,837.7 L-273.1,842.4 L-273.9,847.3 L-274.4,852.1 L-274.6,857.0 L-274.4,861.9 L-273.9,866.7 L-273.1,871.6 L-271.9,876.3 L-270.4,880.9Z M-75.0,760.0 L100.0,760.0 L100.0,795.0 L-75.0,795.0Z M-75.0,1038.0 L106.0,1038.0 L106.0,1076.0 L-75.0,1076.0Z M62.0,795.0 L100.0,795.0 L-37.0,1038.0 L-75.0,1038.0Z M140.0,760.0 L172.0,760.0 L172.0,1076.0 L140.0,1076.0Z M172.0,760.0 L297.0,760.0 L297.0,796.0 L172.0,796.0Z M172.0,893.0 L291.0,893.0 L291.0,928.0 L172.0,928.0Z M337.0,760.0 L367.0,760.0 L367.0,1076.0 L337.0,1076.0Z M367.0,1041.0 L497.0,1041.0 L497.0,1076.0 L367.0,1076.0Z M520.0,760.0 L551.0,760.0 L551.0,1076.0 L520.0,1076.0Z M709.0,760.0 L740.0,760.0 L740.0,1076.0 L709.0,1076.0Z M533.0,760.0 L558.6,760.0 L626.3,1000.0 L703.0,760.0 L727.0,760.0 L624.0,1076.0Z" fill="#000" fill-opacity="0.026" fill-rule="nonzero"/></g></g>
</svg>
</body></html>
